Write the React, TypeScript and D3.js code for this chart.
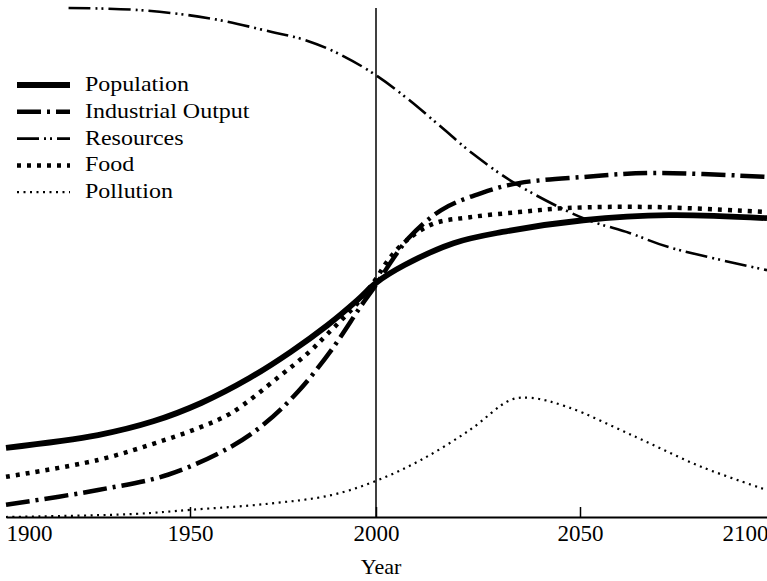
import React, { useEffect, useRef } from 'react';
import * as d3 from 'd3';

// values (arbitrary index units, 0..100)
const populationYears = [1900, 1925, 1940, 1953, 1966, 1977, 1987, 1995, 2000, 2007, 2019, 2031, 2051, 2077, 2107];
const populationValues = [13.6, 16.1, 18.8, 22.4, 27.3, 32.4, 37.7, 42.6, 46.0, 49.5, 53.8, 56.0, 58.3, 59.3, 58.7];

const industryYears = [1900, 1925, 1944, 1961, 1970, 1979, 1988, 1996, 2000, 2004, 2008, 2016, 2026, 2035, 2051, 2072, 2107];
const industryValues = [2.4, 5.3, 8.3, 13.8, 18.3, 24.6, 32.8, 41.5, 45.6, 50.5, 54.8, 60.3, 63.7, 65.6, 66.8, 67.6, 66.8];

const resourceYears = [1917, 1936, 1955, 1972, 1981, 1990, 2000, 2008, 2016, 2024, 2034, 2051, 2065, 2077, 2107];
const resourceValues = [100, 99.6, 98.0, 95.3, 93.7, 91.0, 86.8, 82.0, 76.6, 71.2, 65.6, 58.7, 55.8, 53.0, 48.5];

const foodYears = [1900, 1925, 1943, 1953, 1961, 1974, 1982, 1987, 1995, 2000, 2003, 2007, 2014, 2023, 2035, 2047, 2072, 2107];
const foodValues = [7.9, 11.2, 15.1, 17.7, 20.4, 27.6, 32.4, 36.0, 42.0, 46.8, 50.5, 54.0, 57.6, 58.9, 59.9, 60.7, 60.9, 59.9];

const pollutionYears = [1900, 1935, 1950, 1971, 1988, 2000, 2011, 2023, 2033, 2038, 2047, 2067, 2087, 2107];
const pollutionValues = [0, 0.6, 1.4, 2.6, 4.3, 7.1, 11.2, 17.1, 23.0, 23.4, 21.6, 15.7, 9.8, 5.3];

const tickYears = [1900, 1950, 2000, 2050, 2100];
const markerYear = 2000;

const width = 767;
const height = 581;
const serif = '"Liberation Serif", "Times New Roman", Times, "Noto Serif", "DejaVu Serif", serif';

const series = [
  { name: 'Population', years: populationYears, values: populationValues, width: 5.8, dash: null },
  { name: 'Industrial Output', years: industryYears, values: industryValues, width: 4.5, dash: '24 6 3 6' },
  { name: 'Resources', years: resourceYears, values: resourceValues, width: 2.6, dash: '22 5 2 4 2 5' },
  { name: 'Food', years: foodYears, values: foodValues, width: 4.5, dash: '4 6' },
  { name: 'Pollution', years: pollutionYears, values: pollutionValues, width: 2.2, dash: '2 4.5' },
];

export default function App() {
  const axisRef = useRef<SVGGElement>(null);

  // the printed axis is not quite even, so the scale follows the tick marks
  const x = d3.scaleLinear()
    .domain([1900, 1950, 2000, 2050, 2100, 2107])
    .range([6, 190, 376, 580, 745, 767]);
  const y = d3.scaleLinear().domain([0, 100]).range([517, 8]);

  const line = d3.line<[number, number]>()
    .x((d) => x(d[0]))
    .y((d) => y(d[1]))
    .curve(d3.curveCatmullRom.alpha(0.5));

  useEffect(() => {
    const g = d3.select(axisRef.current);
    g.selectAll('*').remove();
    g.call(
      d3.axisBottom(x)
        .tickValues(tickYears)
        .tickSizeInner(-10)
        .tickSizeOuter(0)
        .tickPadding(8)
        .tickFormat(d3.format('d'))
    );
    g.attr('font-family', serif).attr('font-size', 23);
    g.select('.domain').attr('stroke-width', 2);
    g.selectAll('.tick line').attr('stroke-width', 1.5);
    g.selectAll<SVGGElement, number>('.tick')
      .filter((d) => d === 1900 || d === 2100)
      .select('line')
      .remove();
    g.selectAll<SVGGElement, number>('.tick')
      .filter((d) => d === 1900)
      .select('text')
      .attr('text-anchor', 'start');
  }, []);

  return (
    <svg width={width} height={height}
      style={{ position: 'absolute', left: 0, top: 0, background: '#fff' }}>
      <line x1={x(markerYear)} x2={x(markerYear)} y1={y(100)} y2={y(0)}
        stroke="#000" strokeWidth={1.5} />

      {series.map((s) => (
        <path key={s.name}
          d={line(s.years.map((yr, i) => [yr, s.values[i]] as [number, number])) || ''}
          fill="none" stroke="#000" strokeWidth={s.width}
          strokeDasharray={s.dash || undefined} />
      ))}

      <g ref={axisRef} transform={`translate(0, ${y(0)})`} />

      <text x={x(markerYear) + 5} y={574} textAnchor="middle"
        fontFamily={serif} fontSize={22}>Year</text>

      {series.map((s, i) => (
        <g key={s.name} transform={`translate(17, ${85 + i * 26.8})`}>
          <line x1={0} x2={53} y1={0} y2={0} stroke="#000"
            strokeWidth={s.width} strokeDasharray={s.dash || undefined} />
          <text transform="translate(68, 6) scale(1.09, 1)"
            fontFamily={serif} fontSize={22}>{s.name}</text>
        </g>
      ))}
    </svg>
  );
}
